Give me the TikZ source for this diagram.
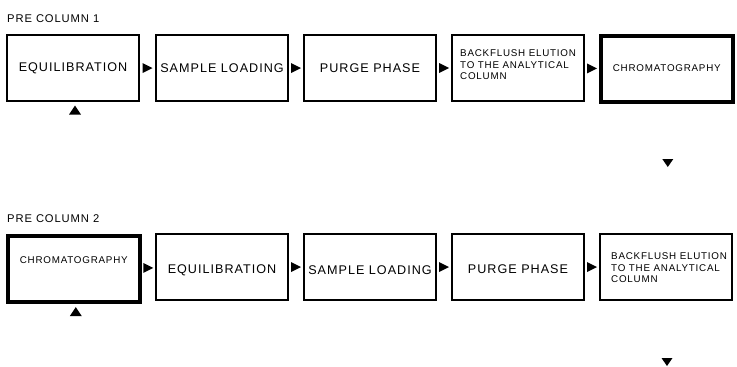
\documentclass[tikz,border=0pt]{standalone}
\usepackage{fontspec}
\setmainfont[LetterSpace=8]{Liberation Sans}
\begin{document}
\begin{tikzpicture}[x=1pt,y=-1pt,
  box/.style={draw, line width=2pt, minimum width=132pt, minimum height=66pt, inner sep=0pt, anchor=north west},
  thickbox/.style={box, line width=3.6pt},
  big/.style={font=\fontsize{12.6}{14}\selectfont, inner sep=0pt},
  small/.style={font=\fontsize{9.8}{11.6}\selectfont, inner sep=0pt, align=left},
  lbl/.style={font=\fontsize{11.2}{13}\selectfont, inner sep=0pt, anchor=base west},
  tri/.style={fill=black}
]
\useasboundingbox (0,0) rectangle (737,367);
% labels
\node[lbl] (l1) at (7,22.5) {PRE COLUMN 1};
\node[lbl] (l2) at (7,222.5) {PRE COLUMN 2};
% row 1
\node[box] (a1) at (6,34) {};
\node[box] (a2) at (155,34) {};
\node[box] (a3) at (303,34) {};
\node[box] (a4) at (451,34) {};
\node[thickbox] (a5) at (599,34) {};
\node[big] (ta1) at (a1.center) {EQUILIBRATION};
\node[big] (ta2) at (a2.center) {SAMPLE LOADING};
\node[big] (ta3) at (a3.center) {PURGE PHASE};
\node[small, anchor=west] (ta4) at ([xshift=9pt,yshift=3pt]a4.west) {BACKFLUSH ELUTION\\TO THE ANALYTICAL\\COLUMN};
\node[small] (ta5) at ([yshift=1pt]a5.center) {CHROMATOGRAPHY};
% row 2
\node[thickbox] (b1) at (6,234) {};
\node[box] (b2) at (155,233) {};
\node[box] (b3) at (303,233) {};
\node[box] (b4) at (451,233) {};
\node[box] (b5) at (599,233) {};
\node[small] (tb1) at ([yshift=9pt]b1.center) {CHROMATOGRAPHY};
\node[big] (tb2) at ([yshift=-3pt]b2.center) {EQUILIBRATION};
\node[big] (tb3) at ([yshift=-3pt]b3.center) {SAMPLE LOADING};
\node[big] (tb4) at ([yshift=-2pt]b4.center) {PURGE PHASE};
\node[small, anchor=west] (tb5) at ([xshift=12pt,yshift=-1pt]b5.west) {BACKFLUSH ELUTION\\TO THE ANALYTICAL\\COLUMN};
% right-pointing triangles between boxes
\foreach \p/\q in {a1/a2,a2/a3,a3/a4,a4/a5,b1/b2,b2/b3,b3/b4,b4/b5}{
  \path (\p.east) -- (\q.west) coordinate[midway] (m);
  \fill[tri] ([xshift=-5pt,yshift=-5pt]m) -- ([xshift=5pt]m) -- ([xshift=-5pt,yshift=5pt]m) -- cycle;
}
% up arrows under first boxes
\foreach \p in {a1,b1}{
  \coordinate (u) at ([xshift=2pt,yshift=-3.5pt]\p.south);
  \fill[tri] (u) -- ([xshift=6pt,yshift=-9pt]u) -- ([xshift=-6pt,yshift=-9pt]u) -- cycle;
}
% down arrows below last boxes
\foreach \p/\y in {a5/159,b5/358}{
  \coordinate (d) at ([xshift=1pt]\p.south |- 0,\y);
  \fill[tri] ([xshift=-5.5pt]d) -- ([xshift=5.5pt]d) -- ([yshift=-8pt]d) -- cycle;
}
\end{tikzpicture}
\end{document}
